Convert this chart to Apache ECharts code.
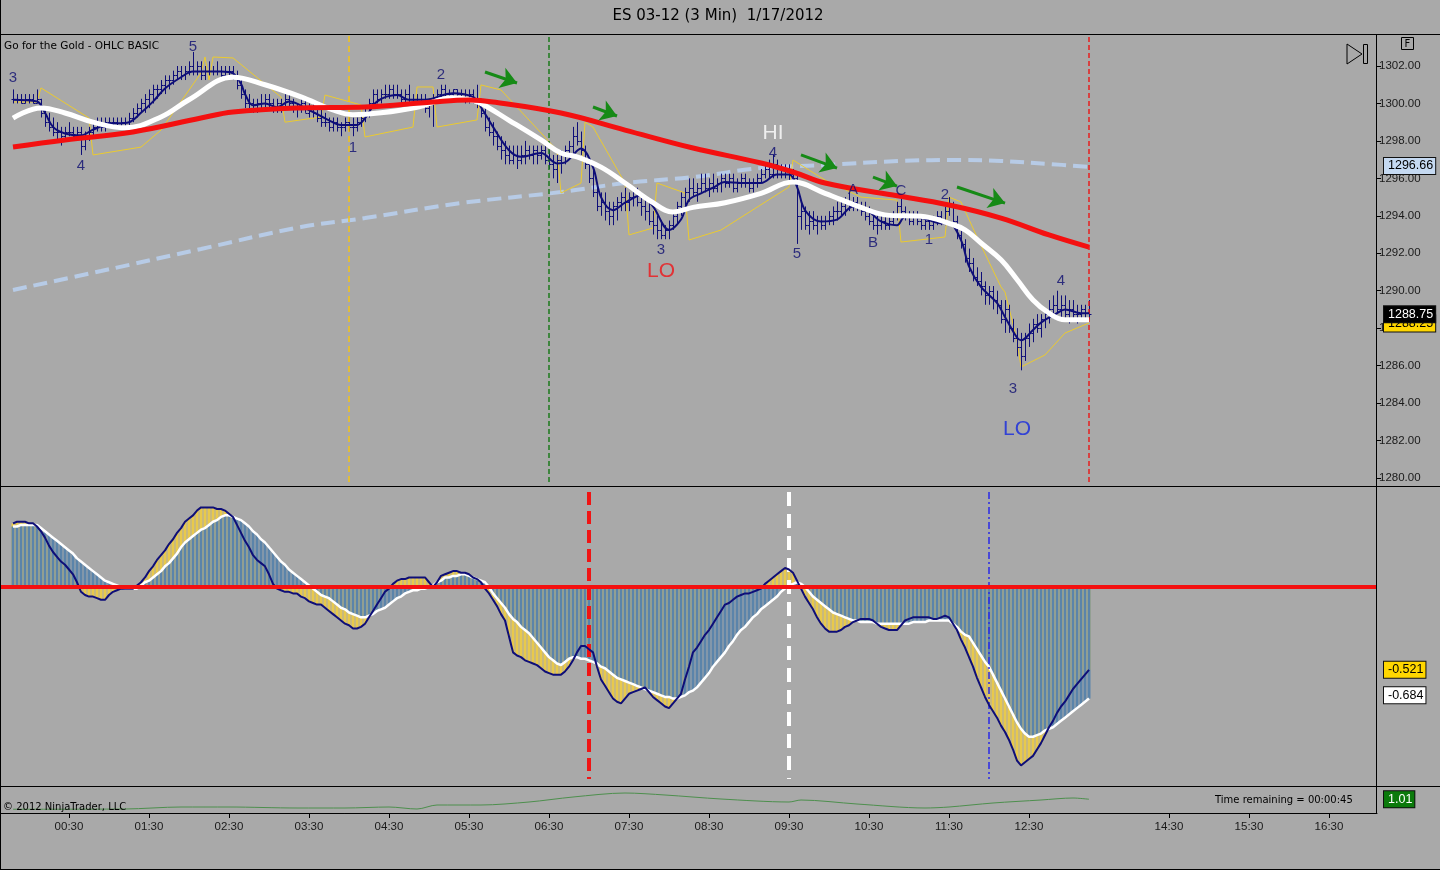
<!DOCTYPE html>
<html><head><meta charset="utf-8">
<script src="https://cdn.jsdelivr.net/npm/echarts@6/dist/echarts.min.js"></script>
<style>html,body{margin:0;padding:0;background:#a9a9a9}#c{width:1440px;height:870px}</style>
</head><body><div id="c"></div><script>
// ---------- DATA ----------
const FIRST_BAR = 3;           // category index of first price bar
const N_CATS = 345;            // category slots across the chart (3-min bars + future space)
const timeTickIdx = [17,37,57,77,97,117,137,157,177,197,217,237,257,292,312,332];
const timeTickLabels = ['00:30','01:30','02:30','03:30','04:30','05:30','06:30','07:30','08:30','09:30','10:30','11:30','12:30','14:30','15:30','16:30'];

const barOpen = [
1300.25,1300.25,1300.25,1300.00,1300.25,1300.25,1300.00,1300.25,1299.50,1299.00,
1298.75,1298.50,1298.50,1298.25,1298.50,1298.50,1298.25,1298.50,1297.75,1298.25,
1298.50,1298.75,1299.00,1298.75,1299.00,1299.00,1299.00,1298.75,1299.00,1299.00,
1299.25,1299.50,1299.75,1300.00,1300.25,1300.50,1300.75,1300.75,1301.00,1301.25,
1301.25,1301.50,1301.75,1301.50,1301.75,1302.00,1301.75,1302.00,1301.50,1301.75,
1301.75,1301.75,1301.75,1301.50,1301.75,1301.75,1301.50,1301.00,1300.50,1300.00,
1300.00,1299.75,1300.00,1300.00,1300.25,1300.00,1299.75,1300.00,1299.75,1300.25,
1300.00,1299.75,1299.75,1300.00,1299.50,1299.75,1299.50,1299.25,1299.00,1299.00,
1298.75,1299.00,1298.75,1298.75,1299.00,1298.75,1298.75,1299.00,1299.25,1299.50,
1300.00,1300.50,1300.25,1300.50,1300.50,1300.75,1300.50,1300.50,1300.25,1300.50,
1300.25,1300.00,1300.25,1300.25,1299.75,1300.00,1300.25,1300.50,1300.75,1300.50,
1300.50,1300.75,1300.50,1300.50,1300.25,1300.50,1300.25,1300.00,1299.50,1298.75,
1298.50,1298.25,1297.75,1297.50,1297.25,1297.00,1297.25,1297.00,1297.25,1297.50,
1297.25,1297.50,1297.25,1297.50,1297.00,1296.75,1296.50,1297.00,1297.25,1297.50,
1297.75,1298.25,1298.00,1297.50,1296.75,1296.00,1295.25,1294.50,1294.75,1294.25,
1294.00,1294.50,1294.75,1295.00,1294.75,1295.00,1295.25,1294.75,1294.50,1294.25,
1293.75,1293.50,1293.25,1293.00,1293.25,1293.50,1294.00,1294.50,1295.00,1295.25,
1295.50,1295.25,1295.50,1295.75,1295.50,1295.75,1295.50,1295.75,1296.00,1295.75,
1296.00,1295.50,1295.75,1296.00,1295.75,1295.50,1295.75,1296.00,1296.25,1296.50,
1296.25,1296.75,1296.25,1296.50,1296.25,1296.25,1296.00,1294.00,1294.25,1293.50,
1293.75,1293.50,1293.75,1293.50,1293.75,1294.00,1294.25,1294.25,1294.50,1294.75,
1294.50,1294.75,1294.50,1294.25,1294.00,1293.75,1293.50,1293.50,1293.75,1293.50,
1293.75,1294.00,1294.50,1294.25,1294.00,1293.75,1294.00,1293.75,1293.50,1293.75,
1293.50,1293.75,1294.00,1293.75,1294.25,1294.50,1293.75,1293.00,1292.50,1291.75,
1291.50,1290.75,1290.50,1290.25,1289.75,1290.00,1289.50,1289.25,1288.50,1289.00,
1288.00,1287.50,1287.00,1286.50,1287.50,1287.75,1288.25,1288.00,1288.50,1288.75,
1289.00,1289.25,1289.00,1289.25,1288.75,1289.00,1288.75,1288.75,1289.00,1288.50];
const barHigh = [
1300.75,1300.50,1300.50,1300.50,1300.50,1300.50,1300.75,1300.25,1299.75,1299.50,
1299.25,1299.00,1298.75,1298.75,1299.00,1298.75,1298.75,1298.75,1298.50,1298.75,
1299.00,1299.25,1299.25,1299.25,1299.25,1299.25,1299.25,1299.25,1299.25,1299.50,
1299.75,1300.00,1300.25,1300.50,1300.75,1301.00,1301.00,1301.25,1301.50,1301.50,
1301.75,1302.00,1302.00,1302.00,1302.25,1302.75,1302.25,1302.25,1302.00,1302.25,
1302.00,1302.25,1302.00,1302.00,1302.00,1302.00,1301.75,1301.25,1300.75,1300.50,
1300.25,1300.25,1300.50,1300.50,1300.50,1300.25,1300.25,1300.25,1300.50,1300.50,
1300.25,1300.00,1300.25,1300.25,1300.00,1300.00,1299.75,1299.75,1299.50,1299.25,
1299.25,1299.25,1299.00,1299.25,1299.25,1299.25,1299.25,1299.50,1299.75,1300.25,
1300.75,1300.75,1300.75,1301.00,1301.00,1301.00,1301.00,1300.75,1300.75,1301.00,
1300.50,1300.50,1300.50,1300.50,1300.25,1300.50,1300.75,1301.00,1301.00,1300.75,
1300.75,1300.75,1300.75,1300.75,1300.75,1300.75,1301.00,1300.25,1299.75,1299.25,
1299.00,1298.50,1298.25,1298.00,1297.75,1297.75,1297.75,1297.75,1298.00,1297.75,
1297.75,1297.75,1297.75,1297.75,1297.50,1297.25,1297.25,1297.50,1297.75,1298.00,
1298.75,1299.00,1298.50,1297.75,1297.00,1296.50,1295.75,1295.25,1295.25,1294.75,
1294.75,1295.00,1295.25,1295.50,1295.25,1295.50,1295.50,1295.25,1295.00,1294.75,
1294.25,1294.00,1293.75,1293.50,1293.75,1294.25,1294.75,1295.25,1295.50,1296.00,
1296.00,1295.75,1296.25,1296.25,1296.00,1296.25,1296.00,1296.25,1296.25,1296.25,
1296.25,1296.00,1296.25,1296.25,1296.00,1296.00,1296.25,1296.50,1296.75,1297.00,
1297.25,1297.00,1296.75,1296.75,1296.75,1296.50,1296.25,1294.75,1294.50,1294.25,
1294.25,1294.00,1294.00,1294.00,1294.25,1294.50,1294.75,1294.75,1295.00,1295.25,
1295.00,1295.00,1294.75,1294.75,1294.50,1294.00,1294.00,1294.00,1294.00,1294.00,
1294.25,1294.75,1295.00,1294.50,1294.25,1294.25,1294.25,1294.00,1294.00,1294.00,
1294.00,1294.25,1294.25,1294.50,1295.00,1294.75,1294.00,1293.25,1292.75,1292.25,
1291.75,1291.25,1291.00,1290.50,1290.25,1290.25,1290.00,1289.50,1289.50,1289.25,
1288.50,1288.00,1287.75,1287.75,1288.25,1288.50,1288.75,1288.75,1289.00,1289.50,
1289.75,1290.00,1289.75,1289.75,1289.50,1289.50,1289.25,1289.25,1289.25,1289.50];
const barLow = [
1300.00,1300.00,1300.00,1300.00,1300.00,1300.00,1300.00,1299.25,1298.75,1298.50,
1298.25,1298.00,1297.75,1298.00,1298.25,1298.00,1298.00,1297.25,1297.50,1298.00,
1298.25,1298.50,1298.50,1298.50,1298.75,1298.75,1298.75,1298.75,1298.75,1298.75,
1299.00,1299.25,1299.50,1299.50,1299.75,1300.00,1300.25,1300.50,1300.50,1300.75,
1301.00,1301.25,1301.25,1301.25,1301.50,1301.50,1301.50,1301.25,1301.25,1301.50,
1301.50,1301.50,1301.25,1301.25,1301.50,1301.25,1300.75,1300.25,1299.75,1299.75,
1299.50,1299.50,1299.75,1299.75,1299.75,1299.50,1299.50,1299.50,1299.75,1299.75,
1299.50,1299.25,1299.50,1299.50,1299.25,1299.25,1299.00,1298.75,1298.75,1298.50,
1298.50,1298.50,1298.25,1298.50,1298.50,1298.25,1298.50,1298.75,1299.00,1299.25,
1299.75,1300.00,1300.00,1300.25,1300.25,1300.25,1300.25,1300.00,1300.00,1300.00,
1299.75,1299.75,1300.00,1299.50,1299.25,1298.75,1300.00,1300.25,1300.25,1300.25,
1300.25,1300.25,1300.25,1300.00,1300.00,1300.00,1299.75,1299.25,1298.50,1298.25,
1297.75,1297.50,1297.00,1296.75,1296.75,1296.75,1296.50,1296.75,1296.75,1297.00,
1296.75,1296.75,1297.00,1296.75,1296.50,1296.00,1295.75,1296.25,1296.75,1297.00,
1297.25,1297.75,1297.25,1296.50,1295.75,1295.00,1294.25,1294.00,1293.75,1293.50,
1293.50,1293.75,1294.25,1294.25,1294.25,1294.50,1294.50,1294.00,1293.75,1293.50,
1293.00,1292.75,1292.75,1292.75,1292.75,1293.25,1293.50,1294.00,1294.50,1294.75,
1295.00,1294.75,1295.25,1295.25,1295.00,1295.25,1295.25,1295.25,1295.50,1295.50,
1295.25,1295.25,1295.50,1295.50,1295.25,1295.25,1295.50,1295.75,1296.00,1296.00,
1296.00,1296.00,1296.00,1296.00,1295.75,1295.75,1292.50,1293.25,1293.25,1293.00,
1293.25,1293.00,1293.25,1293.25,1293.50,1293.50,1293.75,1294.00,1294.00,1294.25,
1294.25,1294.25,1294.00,1293.75,1293.50,1293.25,1293.00,1293.25,1293.25,1293.25,
1293.50,1293.75,1294.00,1293.75,1293.50,1293.50,1293.50,1293.25,1293.25,1293.25,
1293.25,1293.50,1293.50,1293.50,1294.00,1293.50,1292.75,1292.25,1291.50,1291.00,
1290.50,1290.25,1289.75,1289.25,1289.25,1289.00,1288.75,1288.25,1287.75,1287.75,
1287.25,1286.50,1285.75,1286.25,1287.00,1287.25,1287.75,1287.50,1288.00,1288.25,
1288.50,1288.75,1288.50,1288.50,1288.25,1288.50,1288.25,1288.50,1288.50,1288.50];
const barClose = [
1300.25,1300.25,1300.00,1300.25,1300.25,1300.00,1300.25,1299.50,1299.00,1298.75,
1298.50,1298.50,1298.25,1298.50,1298.50,1298.25,1298.50,1297.75,1298.25,1298.50,
1298.75,1299.00,1298.75,1299.00,1299.00,1299.00,1298.75,1299.00,1299.00,1299.25,
1299.50,1299.75,1300.00,1300.25,1300.50,1300.75,1300.75,1301.00,1301.25,1301.25,
1301.50,1301.75,1301.50,1301.75,1302.00,1301.75,1302.00,1301.50,1301.75,1301.75,
1301.75,1301.75,1301.50,1301.75,1301.75,1301.50,1301.00,1300.50,1300.00,1300.00,
1299.75,1300.00,1300.00,1300.25,1300.00,1299.75,1300.00,1299.75,1300.25,1300.00,
1299.75,1299.75,1300.00,1299.50,1299.75,1299.50,1299.25,1299.00,1299.00,1298.75,
1299.00,1298.75,1298.75,1299.00,1298.75,1298.75,1299.00,1299.25,1299.50,1300.00,
1300.50,1300.25,1300.50,1300.50,1300.75,1300.50,1300.50,1300.25,1300.50,1300.25,
1300.00,1300.25,1300.25,1299.75,1300.00,1300.25,1300.50,1300.75,1300.50,1300.50,
1300.75,1300.50,1300.50,1300.25,1300.50,1300.25,1300.00,1299.50,1298.75,1298.50,
1298.25,1297.75,1297.50,1297.25,1297.00,1297.25,1297.00,1297.25,1297.50,1297.25,
1297.50,1297.25,1297.50,1297.00,1296.75,1296.50,1297.00,1297.25,1297.50,1297.75,
1298.25,1298.00,1297.50,1296.75,1296.00,1295.25,1294.50,1294.75,1294.25,1294.00,
1294.50,1294.75,1295.00,1294.75,1295.00,1295.25,1294.75,1294.50,1294.25,1293.75,
1293.50,1293.25,1293.00,1293.25,1293.50,1294.00,1294.50,1295.00,1295.25,1295.50,
1295.25,1295.50,1295.75,1295.50,1295.75,1295.50,1295.75,1296.00,1295.75,1296.00,
1295.50,1295.75,1296.00,1295.75,1295.50,1295.75,1296.00,1296.25,1296.50,1296.25,
1296.75,1296.25,1296.50,1296.25,1296.25,1296.00,1294.00,1294.25,1293.50,1293.75,
1293.50,1293.75,1293.50,1293.75,1294.00,1294.25,1294.25,1294.50,1294.75,1294.50,
1294.75,1294.50,1294.25,1294.00,1293.75,1293.50,1293.50,1293.75,1293.50,1293.75,
1294.00,1294.50,1294.25,1294.00,1293.75,1294.00,1293.75,1293.50,1293.75,1293.50,
1293.75,1294.00,1293.75,1294.25,1294.50,1293.75,1293.00,1292.50,1291.75,1291.50,
1290.75,1290.50,1290.25,1289.75,1290.00,1289.50,1289.25,1288.50,1289.00,1288.00,
1287.50,1287.00,1286.50,1287.50,1287.75,1288.25,1288.00,1288.50,1288.75,1289.00,
1289.25,1289.00,1289.25,1288.75,1289.00,1288.75,1288.75,1289.00,1288.50,1288.75];

// price-panel indicator lines: [category index, price]
const fastLine = [[3,1300.2],[9,1300.1],[11,1299.5],[13,1298.75],[16,1298.4],[20,1298.3],[23,1298.6],[27,1298.9],[32,1299.0],[35,1299.5],[38,1300.1],[41,1300.8],[45,1301.4],[48,1301.7],[55,1301.7],[58,1301.6],[60,1301.05],[61,1300.5],[63,1299.9],[66,1300.0],[69,1299.8],[72,1300.1],[77,1299.65],[82,1299.1],[85,1298.85],[89,1298.85],[91,1299.2],[94,1300.1],[99,1300.45],[102,1300.2],[106,1300.2],[113,1300.55],[118,1300.35],[120,1299.8],[123,1298.75],[127,1297.5],[130,1297.15],[135,1297.35],[139,1296.8],[141,1296.85],[145,1297.6],[148,1296.6],[150,1295.0],[153,1294.3],[156,1294.7],[160,1295.1],[163,1294.5],[167,1293.25],[170,1293.8],[172,1294.85],[175,1295.2],[178,1295.5],[181,1295.8],[185,1295.75],[190,1295.75],[194,1296.2],[197,1296.2],[199,1295.55],[201,1294.3],[205,1293.7],[209,1293.8],[213,1294.5],[216,1294.4],[220,1293.7],[224,1293.5],[226,1293.95],[230,1293.9],[235,1293.6],[237,1293.6],[240,1292.7],[242,1291.3],[245,1290.2],[249,1289.35],[251,1288.6],[254,1287.5],[255,1287.35],[258,1287.9],[260,1288.3],[264,1288.8],[266,1289.0],[270,1288.8],[272,1288.8]];
const whiteLine = [[3,1299.22],[10,1299.76],[16,1299.49],[23,1299.0],[31,1298.7],[40,1299.28],[47,1300.2],[58,1301.4],[66,1301.0],[75,1300.35],[83,1299.65],[88,1299.4],[95,1299.5],[104,1299.8],[113,1300.3],[117,1300.2],[120,1300.0],[127,1299.1],[135,1298.05],[140,1297.35],[144,1297.15],[150,1296.6],[156,1295.75],[163,1294.7],[168,1294.2],[173,1294.45],[181,1294.7],[190,1295.2],[198,1295.8],[206,1295.2],[215,1294.45],[221,1294.05],[231,1293.95],[237,1293.6],[241,1293.25],[245,1292.55],[250,1291.65],[254,1290.6],[258,1289.5],[262,1288.8],[266,1288.45],[272,1288.45]];
const redLine = [[3,1297.67],[16,1298.05],[33,1298.48],[50,1299.22],[58,1299.54],[75,1299.76],[91,1299.81],[108,1300.08],[117,1300.18],[123,1300.08],[140,1299.49],[156,1298.58],[173,1297.62],[190,1296.82],[198,1296.34],[206,1295.75],[223,1295.11],[237,1294.58],[250,1293.88],[262,1292.98],[272,1292.33]];
const blueDashLine = [[3,1290.04],[25,1291.05],[50,1292.23],[75,1293.4],[91,1293.88],[115,1294.68],[140,1295.27],[156,1295.75],[173,1296.07],[190,1296.55],[206,1296.71],[225,1296.93],[240,1296.98],[250,1296.93],[262,1296.77],[272,1296.61]];
const yellowLine = [[3,1300.08],[9,1300.08],[10,1300.83],[22,1299.22],[23,1297.25],[35,1297.67],[40,1298.58],[50,1301.63],[51,1302.48],[52,1301.25],[53,1302.48],[58,1302.43],[70,1300.34],[71,1299.0],[80,1299.28],[81,1300.45],[90,1299.92],[91,1298.21],[103,1298.74],[104,1300.88],[108,1300.88],[109,1298.74],[119,1299.12],[120,1300.99],[125,1300.72],[139,1297.51],[140,1295.22],[145,1295.75],[146,1299.0],[148,1298.74],[156,1295.75],[157,1292.98],[163,1293.35],[164,1295.75],[171,1295.22],[172,1292.71],[180,1293.24],[197,1295.54],[198,1296.98],[206,1295.91],[215,1295.0],[224,1294.84],[225,1292.6],[236,1292.87],[237,1295.0],[240,1294.74],[244,1292.87],[250,1290.2],[251,1289.93],[254,1287.37],[255,1285.93],[261,1286.57],[266,1287.74],[272,1288.28]];

// oscillator panel (per bar)
const oscFast = [
.40,.41,.41,.41,.40,.40,.38,.35,.31,.26,
.22,.19,.16,.14,.11,.08,.03,-.03,-.05,-.06,
-.06,-.07,-.08,-.08,-.05,-.03,-.02,-.01,-.01,-.01,
-.01,.01,.03,.06,.10,.13,.17,.20,.23,.27,
.30,.34,.37,.41,.43,.45,.48,.50,.50,.50,
.50,.49,.49,.48,.46,.44,.39,.34,.29,.25,
.20,.17,.15,.13,.08,.02,-.01,-.02,-.03,-.03,
-.04,-.04,-.06,-.07,-.09,-.10,-.11,-.11,-.13,-.15,
-.17,-.19,-.21,-.23,-.24,-.26,-.26,-.25,-.23,-.19,
-.15,-.11,-.07,-.03,-.01,.02,.04,.05,.05,.06,
.06,.06,.06,.06,.03,.00,.03,.07,.08,.09,
.10,.10,.09,.09,.08,.06,.05,.03,-.01,-.04,
-.08,-.12,-.17,-.21,-.31,-.41,-.43,-.44,-.46,-.47,
-.48,-.49,-.51,-.53,-.54,-.55,-.55,-.55,-.53,-.50,
-.46,-.41,-.37,-.37,-.39,-.41,-.50,-.58,-.62,-.66,
-.70,-.72,-.73,-.70,-.67,-.66,-.65,-.64,-.63,-.66,
-.69,-.71,-.73,-.75,-.76,-.73,-.70,-.67,-.58,-.50,
-.41,-.38,-.34,-.30,-.27,-.23,-.19,-.15,-.11,-.10,
-.08,-.06,-.05,-.04,-.04,-.03,-.02,-.01,.02,.04,
.06,.08,.10,.12,.11,.09,.04,-.01,-.06,-.10,
-.14,-.19,-.23,-.26,-.28,-.28,-.28,-.27,-.25,-.24,
-.22,-.21,-.20,-.20,-.20,-.21,-.23,-.25,-.26,-.27,
-.27,-.27,-.24,-.21,-.20,-.19,-.19,-.19,-.19,-.19,
-.20,-.20,-.19,-.18,-.19,-.23,-.27,-.33,-.38,-.44,
-.50,-.57,-.63,-.69,-.74,-.78,-.82,-.87,-.91,-.96,
-1.02,-1.09,-1.12,-1.10,-1.08,-1.06,-1.02,-.98,-.93,-.88,
-.84,-.79,-.75,-.72,-.68,-.64,-.61,-.58,-.55,-.52];
const oscSlow = [
.38,.38,.39,.39,.39,.39,.39,.37,.35,.33,
.31,.29,.27,.25,.23,.21,.18,.16,.14,.12,
.10,.08,.06,.04,.03,.02,.01,.00,-.01,-.01,
-.01,-.01,.01,.03,.04,.06,.08,.10,.13,.15,
.18,.21,.25,.28,.30,.32,.34,.36,.37,.39,
.41,.42,.44,.45,.45,.44,.43,.42,.40,.38,
.35,.33,.30,.28,.25,.22,.19,.16,.14,.11,
.09,.07,.05,.03,.01,-.01,-.03,-.05,-.06,-.07,
-.09,-.11,-.13,-.14,-.16,-.17,-.18,-.19,-.19,-.18,
-.17,-.15,-.14,-.13,-.11,-.09,-.07,-.06,-.04,-.03,
-.02,-.02,-.01,-.01,.00,.01,.03,.04,.06,.06,
.07,.07,.08,.08,.07,.06,.05,.04,.03,.00,
-.04,-.07,-.10,-.13,-.17,-.20,-.22,-.25,-.27,-.29,
-.32,-.35,-.38,-.41,-.44,-.46,-.48,-.49,-.47,-.45,
-.44,-.44,-.45,-.45,-.46,-.47,-.48,-.50,-.51,-.53,
-.55,-.57,-.58,-.59,-.60,-.61,-.62,-.63,-.64,-.65,
-.66,-.67,-.68,-.69,-.69,-.70,-.70,-.69,-.68,-.66,
-.65,-.63,-.60,-.57,-.54,-.50,-.47,-.44,-.41,-.37,
-.34,-.30,-.27,-.25,-.22,-.19,-.17,-.14,-.12,-.10,
-.08,-.06,-.03,-.01,.01,.02,.03,.02,.00,-.03,
-.06,-.08,-.10,-.12,-.14,-.16,-.17,-.18,-.19,-.20,
-.21,-.21,-.22,-.22,-.22,-.22,-.23,-.23,-.23,-.23,
-.23,-.23,-.23,-.23,-.23,-.22,-.22,-.22,-.22,-.21,
-.21,-.21,-.21,-.21,-.21,-.23,-.25,-.28,-.30,-.31,
-.35,-.39,-.43,-.47,-.50,-.55,-.60,-.65,-.70,-.75,
-.80,-.85,-.89,-.92,-.94,-.94,-.93,-.92,-.90,-.89,
-.88,-.86,-.84,-.82,-.80,-.78,-.76,-.74,-.72,-.70];

// small bottom strip line
const stripLine = [[3,0.93],[31,0.932],[45,0.948],[57,0.948],[74,0.94],[86,0.94],[97,0.948],[104,0.932],[109,0.964],[120,0.964],[132,0.988],[143,1.028],[156,1.06],[166,1.044],[180,1.012],[197,0.988],[200,1.004],[214,0.972],[231,0.94],[237,0.948],[248,0.98],[260,1.004],[268,1.02],[272,1.01]];

// annotations
const waveLabels = [
 ['3',3,1301.36],['4',20,1296.66],['5',48,1303.0],['1',88,1297.62],['2',110,1301.52],
 ['3',165,1292.17],['4',193,1297.35],['5',199,1291.96],['A',213,1295.38],['B',218,1292.55],
 ['C',225,1295.33],['1',232,1292.71],['2',236,1295.11],['3',253,1284.75],['4',265,1290.52]];
const bigLabels = [['LO',165,1291.05,'#f01418'],['HI',193,1298.42,'#ffffff'],['LO',254,1282.62,'#1428e0']];
const greenArrows = [[121,1301.68,129,1301.09],[148,1299.81,154,1299.33],[200,1297.25,209,1296.55],[218,1296.07,224,1295.59],[239,1295.54,251,1294.68]];
const priceVLines = [[87,'#f2c419',[6,4]],[137,'#1b7a1b',[5,3]],[272,'#e61e1e',[5,3]]];
const oscVLines = [[147,'#f01414',4,[13,6]],[197,'#ffffff',4,[14,8]],[247,'#2828e6',1.5,[7,3,2,3]]];
const priceTags = [[1296.66,'#c5d9f1','#000'],[1288.25,'#ffd700','#000'],[1288.75,'#000000','#fff']];
const oscTags = [[-0.521,'#ffd700','#000'],[-0.684,'#ffffff','#000']];
const stripTag = [1.01,'#0b7a0b','#fff'];

// ---------- CHART ----------
const cats = []; for (let k = 0; k < N_CATS; k++) cats.push(String(k));
const byIdx = arr => arr.map((v, k) => [FIRST_BAR + k, v]);
const ohlc = barOpen.map((o, k) => [FIRST_BAR + k, o, barHigh[k], barLow[k], barClose[k]]);
const AX = 'Liberation Sans';
const tickShow = idx => timeTickIdx.indexOf(idx) >= 0;

const grids = [
 {left:1, right:63, top:66, height:412},
 {left:1, right:63, top:487, height:299},
 {left:1, right:63, top:788, height:25},
 {left:1, right:63, top:36, height:446}
].map(g => Object.assign(g, {outerBoundsMode:'none', containLabel:false, show:false}));

const xAxes = [0,1,2,3].map(gi => ({
 type:'category', gridIndex:gi, data:cats, boundaryGap:false, show: gi === 2,
 axisLine:{show:true, lineStyle:{color:'#000', width:1}},
 axisTick:{show:true, interval:(i)=>tickShow(i), length:5, lineStyle:{color:'#000'}},
 axisLabel:{show:true, interval:(i)=>tickShow(i), formatter:(v, i)=>timeTickLabels[timeTickIdx.indexOf(i)] || '', color:'#1a1a1a', fontFamily:AX, fontSize:11.5, margin:8},
 splitLine:{show:false}
}));

const yAxes = [
 {type:'value', gridIndex:0, position:'right', min:1280, max:1302, interval:2,
  axisLine:{show:false}, axisTick:{show:true, length:4, lineStyle:{color:'#000'}},
  axisLabel:{color:'#1a1a1a', fontFamily:AX, fontSize:11.5, margin:2, formatter:v=>v.toFixed(2)},
  splitLine:{show:false}},
 {type:'value', gridIndex:1, min:-1.249, max:0.628, show:false, splitLine:{show:false}},
 {type:'value', gridIndex:2, min:0.9, max:1.1, show:false, splitLine:{show:false}},
 {type:'value', gridIndex:3, min:0, max:1, show:false, splitLine:{show:false}}
];

const hidden = {color:'rgba(0,0,0,0)', width:1, type:'solid', opacity:1};
const tagLabel = (txt, bg, fg) => ({show:true, position:'end', distance:7, formatter:txt,
  backgroundColor:bg, color:fg, borderColor:'#111', borderWidth:1, padding:[2,2,1,4],
  fontFamily:AX, fontSize:12.5, opacity:1});

const series = [
 // light blue dashed MA
 {type:'line', xAxisIndex:0, yAxisIndex:0, data:blueDashLine, smooth:0.4, showSymbol:false, z:2, clip:false,
  lineStyle:{color:'#b7cbe6', width:4, type:[14,7]},
  markLine:{silent:true, symbol:'none', animation:false, z:20,
   data: priceTags.map(t => ({yAxis:t[0], lineStyle:hidden, label:tagLabel(t[0].toFixed(2), t[1], t[2])}))}},
 // thin yellow swing line
 {type:'line', xAxisIndex:0, yAxisIndex:0, data:yellowLine, showSymbol:false, z:3, clip:false,
  lineStyle:{color:'#eccb2e', width:1}},
 // OHLC bars
 {type:'custom', xAxisIndex:0, yAxisIndex:0, data:ohlc, encode:{x:0, y:[1,2,3,4]}, clip:false, z:4,
  renderItem:(params, api) => {
    const i = api.value(0);
    const pO = api.coord([i, api.value(1)]), pH = api.coord([i, api.value(2)]);
    const pL = api.coord([i, api.value(3)]), pC = api.coord([i, api.value(4)]);
    const x = Math.round(pO[0]) + 0.5;
    const yo = Math.round(pO[1]) + 0.5, yc = Math.round(pC[1]) + 0.5;
    const st = {stroke:'#0e0e78', lineWidth:1};
    return {type:'group', children:[
      {type:'line', shape:{x1:x, y1:pH[1], x2:x, y2:pL[1]}, style:st},
      {type:'line', shape:{x1:x-2, y1:yo, x2:x, y2:yo}, style:st},
      {type:'line', shape:{x1:x, y1:yc, x2:x+2, y2:yc}, style:st}]};
  }},
 // navy fast line
 {type:'line', xAxisIndex:0, yAxisIndex:0, data:fastLine, smooth:0.35, showSymbol:false, z:5, clip:false,
  lineStyle:{color:'#0e0e78', width:2}},
 // white MA
 {type:'line', xAxisIndex:0, yAxisIndex:0, data:whiteLine, smooth:0.4, showSymbol:false, z:6, clip:false,
  lineStyle:{color:'#ffffff', width:5}},
 // red MA
 {type:'line', xAxisIndex:0, yAxisIndex:0, data:redLine, smooth:0.4, showSymbol:false, z:7, clip:false,
  lineStyle:{color:'#f41010', width:5},
  markLine:{silent:true, animation:false, symbol:['none','arrow'], symbolSize:16, z:12,
   lineStyle:{color:'#168a16', width:3, type:'solid', opacity:1}, label:{show:false},
   data: greenArrows.map(a => [{coord:[a[0], a[1]], symbol:'none'}, {coord:[a[2], a[3]], symbol:'arrow', symbolSize:16}])}},
 // wave labels
 {type:'scatter', xAxisIndex:0, yAxisIndex:0, symbolSize:0, clip:false, z:9, silent:true,
  data: waveLabels.map(w => ({name:w[0], value:[w[1], w[2]]})),
  label:{show:true, position:'inside', formatter:p=>p.name, color:'#0c0c70', fontFamily:AX, fontSize:15}},
 {type:'scatter', xAxisIndex:0, yAxisIndex:0, symbolSize:0, clip:false, z:9, silent:true,
  data: bigLabels.map(w => ({name:w[0], value:[w[1], w[2]], label:{color:w[3]}})),
  label:{show:true, position:'inside', formatter:p=>p.name, fontFamily:AX, fontSize:21}},
 // vertical dashed lines on the price panel (full-height overlay grid)
 {type:'line', xAxisIndex:3, yAxisIndex:3, data:[[0,-1]], showSymbol:false, lineStyle:{opacity:0}, z:8,
  markLine:{silent:true, symbol:'none', animation:false, label:{show:false},
   data: priceVLines.map(v => ({xAxis:v[0], lineStyle:{color:v[1], width:1.5, type:v[2]}}))}},
 // oscillator: yellow histogram (fast) behind, steel-blue (slow) in front
 {type:'bar', xAxisIndex:1, yAxisIndex:1, data:byIdx(oscFast), barWidth:3, barGap:'-100%', z:2,
  itemStyle:{color:'#e8c94c'}},
 {type:'bar', xAxisIndex:1, yAxisIndex:1, data:byIdx(oscSlow), barWidth:3, barGap:'-100%', z:3,
  itemStyle:{color:'#5b84aa'}},
 {type:'line', xAxisIndex:1, yAxisIndex:1, data:byIdx(oscSlow), showSymbol:false, z:4,
  lineStyle:{color:'#ffffff', width:2.5},
  markLine:{silent:true, symbol:'none', animation:false, z:20,
   data:[{yAxis:0, lineStyle:{color:'#f41010', width:4, type:'solid'}, label:{show:false}}]
     .concat(oscTags.map(t => ({yAxis:t[0], lineStyle:hidden, label:tagLabel(t[0].toFixed(3), t[1], t[2])})))}},
 {type:'line', xAxisIndex:1, yAxisIndex:1, data:byIdx(oscFast), showSymbol:false, z:5,
  lineStyle:{color:'#0e0e78', width:2},
  markLine:{silent:true, symbol:'none', animation:false, label:{show:false},
   data: oscVLines.map(v => [{coord:[v[0], 0.596], lineStyle:{color:v[1], width:v[2], type:v[3]}}, {coord:[v[0], -1.205]}])}},
 // bottom strip
 {type:'line', xAxisIndex:2, yAxisIndex:2, data:stripLine, smooth:0.3, showSymbol:false, z:3,
  lineStyle:{color:'#4d8f4d', width:1},
  markLine:{silent:true, symbol:'none', animation:false, z:20,
   data:[{yAxis:stripTag[0], lineStyle:hidden, label:tagLabel(stripTag[0].toFixed(2), stripTag[1], stripTag[2])}]}}
];

const ln = (x1,y1,x2,y2,w) => ({type:'line', silent:true, z:100, shape:{x1,y1,x2,y2}, style:{stroke:'#000', lineWidth:w||1}});
const txt = (x,y,t,size,align,fam) => ({type:'text', silent:true, z:100, x, y,
  style:{text:t, fontSize:size, fontFamily:fam||'DejaVu Sans', fill:'#000', align:align||'left', verticalAlign:'middle'}});

const graphic = [
 txt(718,16,'ES 03-12 (3 Min)  1/17/2012',15,'center'),
 ln(0,34.5,1440,34.5), ln(0,486.5,1440,486.5), ln(0,786.5,1440,786.5), ln(0,813.5,1377,813.5),
 ln(1376.5,34,1376.5,814), ln(0.5,0,0.5,870), ln(0,869.5,1440,869.5),
 txt(4,46,'Go for the Gold - OHLC BASIC',10.5,'left'),
 txt(3,807,'\u00a9 2012 NinjaTrader, LLC',10,'left'),
 txt(1215,800,'Time remaining = 00:00:45',10,'left'),
 {type:'rect', silent:true, z:100, shape:{x:1401.5,y:37.5,width:12,height:12}, style:{fill:'none', stroke:'#000', lineWidth:1}},
 txt(1407.5,44,'F',10,'center'),
 {type:'polygon', silent:true, z:100, shape:{points:[[1347,44],[1347,64],[1362,54]]}, style:{fill:'none', stroke:'#000', lineWidth:1}},
 {type:'rect', silent:true, z:100, shape:{x:1363.5,y:44.5,width:4,height:19}, style:{fill:'none', stroke:'#000', lineWidth:1}}
];

const chart = echarts.init(document.getElementById('c'), null, {renderer:'canvas'});
chart.setOption({
 backgroundColor:'#a9a9a9', animation:false,
 grid:grids, xAxis:xAxes, yAxis:yAxes, series:series, graphic:graphic
});
</script></body></html>
